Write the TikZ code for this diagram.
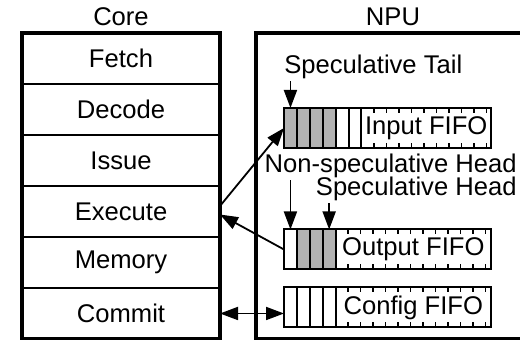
\documentclass[tikz,border=0pt]{standalone}
\usepackage{fontspec}
\setmainfont{Liberation Sans}
\usepackage{xcolor}
\usepackage{tikz}
\usetikzlibrary{positioning,chains,arrows.meta}

\definecolor{specgray}{gray}{0.7}

\begin{document}
\begin{tikzpicture}[
    x=0.5pt, y=-0.5pt,                               % one unit per pixel, y grows downward
    font=\fontsize{12.8}{15}\selectfont,             % text size
    node distance=0pt,                               % stages and cells touch
    stage/.style={draw, line width=0.65pt, minimum width=99pt, minimum height=25.5pt,
                  inner sep=0pt, outer sep=0pt},     % style for the pipeline stages
    frame/.style={line width=2.2pt},                 % thick outline of core and NPU
    cell/.style={draw, line width=1pt, minimum width=6.45pt, minimum height=20pt,
                 inner sep=0pt, outer sep=0pt, on chain},  % one FIFO slot
    cellg/.style={cell, fill=specgray},              % speculative (filled) slot
    region/.style={cell, minimum width=#1},          % rest of the FIFO with its name
    tick/.style={line width=0.8pt},                  % short marks of the free slots
    lbl/.style={inner sep=1pt},                      % pointer labels
    arr/.style={line width=0.9pt},                   % arrows
    >={Triangle[length=9pt,width=6.5pt]}             % arrowhead style
    ]

    \useasboundingbox (0,0) rectangle (520,340);

    % Core pipeline
    \node at (121,17) (corelbl) {Core};
    \node[stage] (fetch) at (121,58.5) {Fetch};
    \node[stage, below=of fetch] (decode) {Decode};
    \node[stage, below=of decode] (issue) {Issue};
    \node[stage, below=of issue] (execute) {Execute};
    \node[stage, below=of execute] (memory) {Memory};
    \node[stage, below=of memory] (commit) {Commit};
    \draw[frame] (fetch.north west) rectangle (commit.south east);

    % NPU
    \node at (393,17) (npulbl) {NPU};
    \draw[frame] (256,33) rectangle (560,339);

    % Input FIFO
    \begin{scope}[start chain=going right]
    \node[cellg] (i1) at (290.45,128) {};
    \node[cellg] (i2) {};
    \node[cellg] (i3) {};
    \node[cellg] (i4) {};
    \node[cell] (i5) {};
    \node[cell] (i6) {};
    \node[region=64.8pt] (infifo) {Input FIFO};
    \end{scope}

    % Output FIFO
    \begin{scope}[start chain=going right]
    \node[cell] (o1) at (290.45,249.5) {};
    \node[cellg] (o2) {};
    \node[cellg] (o3) {};
    \node[cellg] (o4) {};
    \node[region=77.7pt] (outfifo) {Output FIFO};
    \end{scope}

    % Config FIFO
    \begin{scope}[start chain=going right]
    \node[cell] (c1) at (290.45,307.5) {};
    \node[cell] (c2) {};
    \node[cell] (c3) {};
    \node[cell] (c4) {};
    \node[region=77.7pt] (cfgfifo) {Config FIFO};
    \end{scope}

    % free slots
    \foreach \f/\n in {infifo/10, outfifo/12, cfgfifo/12}
      \foreach \k in {1,...,\n} {
        \draw[tick] ([xshift=\k*6.25pt]\f.north west) -- ++(0,5);
        \draw[tick] ([xshift=\k*6.25pt]\f.south west) -- ++(0,-5);
      }

    % pointers
    \node[lbl, anchor=west] (stail) at (282,67) {Speculative Tail};
    \node[lbl, anchor=east] (nshead) at (519,166) {Non-speculative Head};
    \node[lbl, anchor=east] (shead) at (519,189) {Speculative Head};
    \draw[arr, ->] (stail.south -| i1) -- (i1.north);
    \draw[arr, ->] (nshead.south -| o1) -- (o1.north);
    \draw[arr, ->] (shead.south -| o4) -- (o4.north);

    % core <-> NPU
    \draw[arr, ->] ([yshift=2.75pt]execute.east) -- (i1.west);
    \draw[arr, ->] (o1.west) -- ([yshift=-1.5pt]execute.east);
    \draw[arr, <->] (commit.east) -- (commit.east -| c1.west);

\end{tikzpicture}
\end{document}
